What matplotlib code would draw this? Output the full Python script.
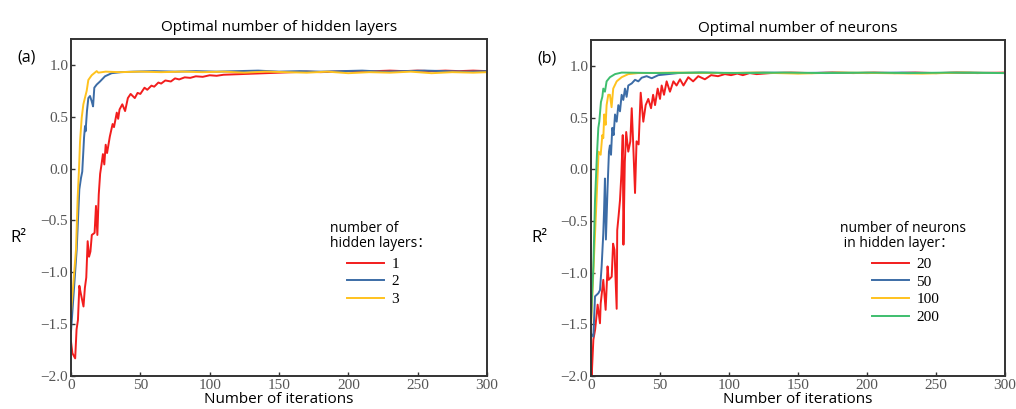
import matplotlib.pyplot as plt
from matplotlib.ticker import FuncFormatter

plt.rcParams['font.family'] = ['Open Sans', 'Noto Sans CJK SC', 'DejaVu Sans']

# ---- (a) hidden layers ----
a_red_x = [0, 1, 3, 4, 5, 6, 7, 9, 10, 11, 12, 13, 14, 15, 16, 17, 18, 19, 20, 21, 22, 23, 24, 25, 26,
           28, 30, 31, 33, 34, 35, 37, 39, 41, 43, 46, 48, 50, 53, 55, 58, 60, 63, 65, 68, 72, 75, 78,
           82, 86, 90, 95, 100, 105, 110, 120, 130, 140, 150, 160, 170, 180, 190, 200, 210, 220, 230,
           240, 250, 260, 270, 280, 290, 300]
a_red_y = [-1.67, -1.78, -1.83, -1.55, -1.46, -1.13, -1.20, -1.33, -1.15, -1.05, -0.70, -0.85, -0.80,
           -0.64, -0.63, -0.62, -0.36, -0.64, -0.25, -0.05, 0.04, 0.14, 0.04, 0.23, 0.15,
           0.31, 0.43, 0.40, 0.54, 0.48, 0.57, 0.62, 0.555, 0.68, 0.72, 0.68, 0.73, 0.72, 0.78, 0.76,
           0.80, 0.79, 0.83, 0.82, 0.85, 0.84, 0.87, 0.86, 0.88, 0.875, 0.89, 0.885, 0.90, 0.895, 0.905,
           0.91, 0.915, 0.92, 0.925, 0.93, 0.935, 0.93, 0.935, 0.94, 0.935, 0.94, 0.945, 0.94, 0.945,
           0.94, 0.945, 0.94, 0.945, 0.94]

a_blue_x = [0, 4.1, 5.3, 6, 7.2, 8.1, 8.9, 9.4, 10.1, 10.5, 11.5, 12.5, 13.7, 14.9, 15.9, 16.8, 18.5,
            20.9, 24.5, 29.3, 36, 45, 60, 75, 90, 105, 120, 135, 150, 165, 180, 195, 210, 225, 240,
            255, 270, 285, 300]
a_blue_y = [-1.57, -0.78, -0.41, -0.20, -0.09, -0.03, 0.17, 0.30, 0.41, 0.36, 0.555, 0.68, 0.70, 0.65,
            0.60, 0.78, 0.81, 0.84, 0.89, 0.92, 0.93, 0.935, 0.94, 0.935, 0.94, 0.935, 0.94, 0.945,
            0.935, 0.94, 0.935, 0.94, 0.945, 0.935, 0.94, 0.945, 0.94, 0.935, 0.94]

a_yel_x = [0, 3.6, 4.8, 5.8, 6.5, 7.7, 8.9, 10, 11.3, 12.5, 14.9, 18.5, 19.7, 25, 35, 50, 65, 80,
           95, 110, 125, 140, 155, 170, 185, 200, 215, 230, 245, 260, 275, 290, 300]
a_yel_y = [-1.39, -0.78, -0.28, 0.01, 0.26, 0.49, 0.62, 0.68, 0.75, 0.855, 0.90, 0.94, 0.925, 0.935,
           0.93, 0.935, 0.93, 0.935, 0.93, 0.935, 0.925, 0.935, 0.93, 0.925, 0.935, 0.92, 0.93,
           0.925, 0.935, 0.92, 0.93, 0.925, 0.93]

# ---- (b) neurons ----
b_red_x = [0, 0.5, 1.7, 3, 4.8, 6.5, 7, 8.9, 10.6, 12, 12.8, 15, 16, 17, 18.6, 19, 20, 21, 22, 23,
           23.5, 24.5, 25.5, 27, 28.5, 29.5, 30.5, 31.9, 33, 34.5, 36, 37.9, 39.6, 41.5, 43.5, 45,
           46.4, 48.3, 50, 51.2, 52.9, 54.8, 57.2, 59.7, 62, 64.5, 67, 70.5, 74, 77.7, 82.5, 87, 92,
           97, 101.5, 106, 110, 115, 120, 130, 145, 160, 175, 190, 205, 220, 235, 250, 265, 280, 300]
b_red_y = [-1.80, -2.0, -1.65, -1.55, -1.31, -1.49, -1.30, -1.07, -1.36, -0.94, -1.07, -1.04, -0.72,
           -0.78, -1.35, -0.59, -0.45, -0.30, -0.05, 0.33, -0.73, 0.07, 0.36, 0.17, 0.27, 0.59, 0.27,
           -0.23, 0.27, 0.24, 0.74, 0.46, 0.62, 0.68, 0.59, 0.72, 0.62, 0.78, 0.68, 0.81, 0.72, 0.85,
           0.75, 0.85, 0.81, 0.87, 0.81, 0.89, 0.85, 0.90, 0.87, 0.91, 0.90, 0.92, 0.91, 0.925, 0.91,
           0.93, 0.92, 0.93, 0.935, 0.93, 0.935, 0.93, 0.935, 0.93, 0.935, 0.93, 0.935, 0.93, 0.935]

b_blue_x = [0, 1.7, 2.9, 5.3, 6.5, 7.7, 8.9, 9.5, 10.1, 10.8, 12, 13, 13.7, 14.5, 15.4, 16.4, 17.4,
            18.6, 19.8, 21, 22.2, 23.4, 24.6, 25.8, 27, 29.5, 31.9, 34.3, 36.7, 40.3, 44, 48.8, 56,
            63, 80, 100, 125, 150, 175, 200, 225, 250, 275, 300]
b_blue_y = [-1.59, -1.62, -1.23, -1.20, -1.17, -0.94, -0.62, -0.38, -0.09, -0.68, -0.18, 0.17, 0.23,
            0.14, 0.40, 0.33, 0.53, 0.46, 0.62, 0.56, 0.72, 0.67, 0.78, 0.70, 0.81, 0.83, 0.865, 0.85,
            0.885, 0.90, 0.88, 0.91, 0.92, 0.93, 0.935, 0.93, 0.935, 0.93, 0.935, 0.93, 0.935, 0.93,
            0.935, 0.93]

b_yel_x = [0, 2.4, 4, 5.5, 7, 8.2, 8.9, 9.6, 10.6, 11.3, 12.5, 13.7, 14.9, 16.1, 18.6, 22.2, 27, 34,
           60, 90, 120, 150, 180, 210, 240, 270, 300]
b_yel_y = [-1.52, -0.78, -0.30, 0.17, 0.14, 0.33, 0.30, 0.53, 0.43, 0.62, 0.72, 0.72, 0.60, 0.78,
           0.85, 0.89, 0.92, 0.93, 0.935, 0.93, 0.935, 0.925, 0.935, 0.93, 0.925, 0.935, 0.93]

b_grn_x = [0, 1.7, 2.9, 4.3, 5.3, 6, 7.2, 8.2, 8.9, 10.1, 11.3, 13.7, 17.4, 22.2, 50, 80, 110, 140,
           170, 200, 230, 260, 300]
b_grn_y = [-1.46, -0.94, -0.30, 0.14, 0.40, 0.46, 0.65, 0.70, 0.78, 0.75, 0.85, 0.89, 0.92, 0.935,
           0.93, 0.935, 0.93, 0.935, 0.93, 0.935, 0.93, 0.935, 0.93]

RED, BLUE, YEL, GRN = '#F21D1D', '#3C6CA6', '#FFC21E', '#3EBE6E'

fig = plt.figure(figsize=(10.16, 4.09), dpi=100)
ax1 = fig.add_axes([0.0699, 0.0807, 0.4094, 0.8240])
ax2 = fig.add_axes([0.5817, 0.0807, 0.4075, 0.8215])

ax1.plot(a_red_x, a_red_y, color=RED, lw=1.4, label='1')
ax1.plot(a_blue_x, a_blue_y, color=BLUE, lw=1.4, label='2')
ax1.plot(a_yel_x, a_yel_y, color=YEL, lw=1.4, label='3')

ax2.plot(b_red_x, b_red_y, color=RED, lw=1.4, label='20')
ax2.plot(b_blue_x, b_blue_y, color=BLUE, lw=1.4, label='50')
ax2.plot(b_yel_x, b_yel_y, color=YEL, lw=1.4, label='100')
ax2.plot(b_grn_x, b_grn_y, color=GRN, lw=1.4, label='200')

fmt = FuncFormatter(lambda v, p: ('%.1f' % v).replace('-', '\u2212'))
for ax, title, lab in [(ax1, 'Optimal number of hidden layers', '(a)'),
                       (ax2, 'Optimal number of neurons', '(b)')]:
    ax.set_xlim(0, 300)
    ax.set_ylim(-2.0, 1.25)
    ax.set_xticks([0, 50, 100, 150, 200, 250, 300])
    ax.set_yticks([-2.0, -1.5, -1.0, -0.5, 0.0, 0.5, 1.0])
    ax.yaxis.set_major_formatter(fmt)
    ax.tick_params(direction='in', length=3, width=1, colors='#333333', labelcolor='#555555',
                   labelsize=11, pad=2)
    for t in ax.get_xticklabels() + ax.get_yticklabels():
        t.set_family('Liberation Serif')
    for s in ax.spines.values():
        s.set_color('#333333')
        s.set_linewidth(1.4)
    ax.set_title(title, fontsize=11, pad=6)
    ax.set_xlabel('Number of iterations', fontsize=11, labelpad=0)
    ax.text(-0.145, 0.41, 'R\u00b2', transform=ax.transAxes, fontsize=12, ha='left', va='center')
    ax.text(-0.13, 0.945, lab, transform=ax.transAxes, fontsize=11.5, ha='left', va='center')

ax1.text(0.623, 0.46, 'number of\nhidden layers\uff1a', transform=ax1.transAxes, fontsize=10,
         ha='left', va='top', linespacing=1.0)
ax1.legend(loc='upper left', bbox_to_anchor=(0.645, 0.375), frameon=False, handlelength=2.4,
           handletextpad=0.5, labelspacing=0.25, borderpad=0, prop={'family': 'Liberation Serif', 'size': 11})

ax2.text(0.602, 0.46, 'number of neurons\n in hidden layer\uff1a', transform=ax2.transAxes, fontsize=10,
         ha='left', va='top', linespacing=1.0)
ax2.legend(loc='upper left', bbox_to_anchor=(0.66, 0.375), frameon=False, handlelength=2.4,
           handletextpad=0.5, labelspacing=0.25, borderpad=0, prop={'family': 'Liberation Serif', 'size': 11})

fig.savefig('out.png', dpi=100)
